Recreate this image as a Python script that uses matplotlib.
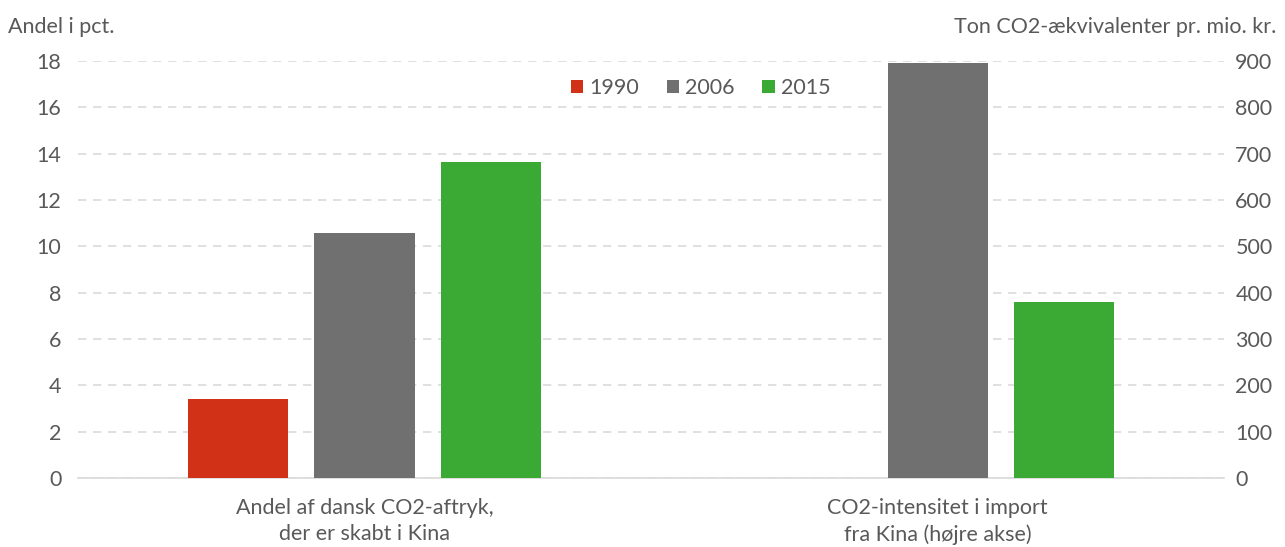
import matplotlib.pyplot as plt
import numpy as np
from matplotlib.patches import Patch

plt.rcParams['font.family'] = ['Lato', 'DejaVu Sans']

categories = ["Andel af dansk CO2-aftryk,\nder er skabt i Kina",
              "CO2-intensitet i import\nfra Kina (højre akse)"]
years = ["1990", "2006", "2015"]
colors = ["#d13116", "#707070", "#3aaa35"]
# left group (pct.), right group (ton per mio. kr.)
left_vals = [3.4, 10.6, 13.65]
right_vals = [None, 896, 380]

FS = 15.5
TXT = "#595959"

fig = plt.figure(figsize=(12.85, 5.47), dpi=100)
ax1 = fig.add_axes([0.0607, 0.126, 0.892, 0.7623])
ax2 = ax1.twinx()

x = np.arange(len(categories))
w = 0.175
off = 0.221
for i, (yr, c) in enumerate(zip(years, colors)):
    ax1.bar(x[0] + (i - 1) * off, left_vals[i], width=w, color=c, zorder=3)
    if right_vals[i] is not None:
        ax2.bar(x[1] + (i - 1) * off, right_vals[i], width=w, color=c, zorder=3)

ax1.set_xlim(-0.5, 1.5)
ax1.set_ylim(0, 18)
ax2.set_ylim(0, 900)
ax1.set_yticks(range(0, 19, 2))
ax2.set_yticks(range(0, 901, 100))
ax1.set_xticks(x)
ax1.set_xticklabels(categories, fontsize=FS, color=TXT, linespacing=1.4)

ax1.grid(axis='y', color="#dadada", linestyle=(0, (5, 4)), linewidth=1.2, zorder=0)
ax1.set_axisbelow(True)
for ax in (ax1, ax2):
    for s in ax.spines.values():
        s.set_visible(False)
    ax.tick_params(length=0, labelsize=FS, labelcolor=TXT)
ax1.spines['bottom'].set_visible(True)
ax1.spines['bottom'].set_color("#d9d9d9")
ax1.spines['bottom'].set_linewidth(1.2)
ax1.tick_params(axis='y', pad=12)
ax1.tick_params(axis='x', pad=14)
ax2.tick_params(axis='y', pad=8)

fig.text(0.006, 0.95, "Andel i pct.", fontsize=FS, color=TXT, va='center')
fig.text(0.993, 0.95, "Ton CO2-ækvivalenter pr. mio. kr.", fontsize=FS,
         color=TXT, va='center', ha='right')

handles = [Patch(facecolor=c, label=y) for y, c in zip(years, colors)]
leg = ax1.legend(handles=handles, loc='center', bbox_to_anchor=(0.543, 0.935),
                 ncol=3, frameon=False, fontsize=FS, handlelength=0.6,
                 handleheight=0.6, handletextpad=0.25, columnspacing=1.3)
for t in leg.get_texts():
    t.set_color(TXT)

fig.savefig("out.png", dpi=100)
